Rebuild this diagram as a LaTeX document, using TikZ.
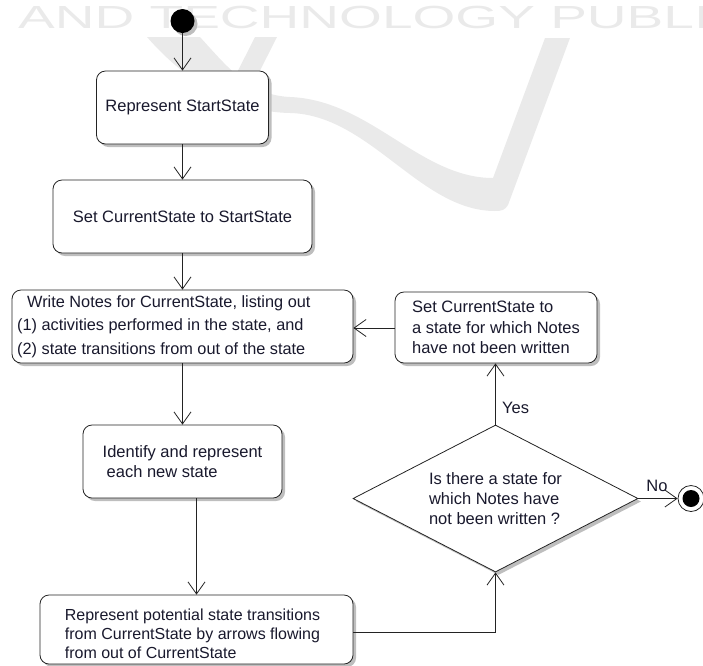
\documentclass[tikz,border=0pt]{standalone}
\usepackage{fontspec}
\setmainfont{Liberation Sans}
\usetikzlibrary{arrows.meta,shapes.geometric,shadows,calc}

\definecolor{ink}{RGB}{25,25,45}
\definecolor{edge}{RGB}{35,35,35}
\definecolor{shade}{RGB}{190,190,190}
\definecolor{wmgray}{RGB}{234,234,234}

\tikzset{
  flow/.style={draw=edge, line width=0.8pt,
    -{Straight Barb[length=12pt,width=17pt,line width=0.8pt]}},
  boxshadow/.style={drop shadow={shadow xshift=3pt, shadow yshift=-3pt, fill=shade, opacity=1}},
  activity/.style={draw=edge, line width=0.8pt, fill=white, rounded corners=9pt,
    align=left, text=ink, inner sep=0pt, boxshadow,
    font=\fontsize{16.5}{20.5}\selectfont},
  boxtext/.style={text=ink, align=left, inner sep=0pt},
  decision/.style={diamond, draw=edge, line width=0.8pt, fill=white, aspect=1.94,
    minimum width=285pt, minimum height=147pt, inner sep=0pt, align=left, text=ink,
    boxshadow, font=\fontsize{16.5}{20}\selectfont},
  startdot/.style={circle, fill=black, minimum size=24pt, inner sep=0pt, boxshadow},
  enddot/.style={circle, draw=edge, line width=0.8pt, fill=white, minimum size=26pt,
    inner sep=0pt, path picture={\fill[black] (path picture bounding box.center) circle (8.5pt);}},
  lbl/.style={text=ink, inner sep=0pt, font=\fontsize{16.5}{20}\selectfont},
}

\begin{document}
\begin{tikzpicture}[x=1pt, y=-1pt]
  \useasboundingbox (0,0) rectangle (703,665);

  % faint publisher watermark behind the chart
  \begin{scope}
    \clip (0,0) rectangle (703,665);
    \node[anchor=base west, inner sep=0pt, text=wmgray,
      font=\fontsize{32}{32}\selectfont] (wm) at (18,28)
      {\scalebox{1.72}[1]{AND TECHNOLOGY PUBLIC}};
    \fill[wmgray] (147,37) -- (200,37)
      .. controls (230,70) and (250,95) .. (290,97)
      .. controls (370,100) and (420,178) .. (493,178)
      -- (545,38) -- (570,38) -- (508,205)
      .. controls (505,210) and (502,211) .. (495,211)
      .. controls (420,211) and (370,115) .. (290,113)
      .. controls (230,112) and (180,75) .. cycle;
    \fill[wmgray] (255,37) -- (277,37) -- (240,110) -- (218,110) -- cycle;
  \end{scope}

  % activities
  \node[startdot] (s) at (182.5,21) {};
  \node[activity, minimum width=172pt, minimum height=73pt] (b1) at (182.5,107.5)
    {Represent StartState};
  \node[activity, minimum width=259pt, minimum height=73pt] (b2) at (182.5,216.5)
    {Set CurrentState to StartState};
  \node[activity, minimum width=341pt, minimum height=73pt] (b3) at (182.5,326.5) {};
  \node[boxtext, anchor=west, font=\fontsize{16.3}{23.5}\selectfont]
    (b3text) at (17,326.5)
    {\hspace{10pt}Write Notes for CurrentState, listing out\\(1) activities performed in the state, and\\(2) state transitions from out of the state};
  \node[activity, minimum width=202pt, minimum height=71pt] (b4) at (496,327.5)
    {Set CurrentState to\\a state for which Notes\\have not been written};
  \node[activity, minimum width=199pt, minimum height=73pt] (b5) at (182.5,461.5)
    {Identify and represent\\\hspace{4pt}each new state};
  \node[activity, minimum width=313pt, minimum height=69pt] (b6) at (196.5,629.5) {};
  \node[boxtext, font=\fontsize{16}{19}\selectfont]
    (b6text) at (192.5,633.5)
    {Represent potential state transitions\\from CurrentState by arrows flowing\\from out of CurrentState};
  \node[decision] (d) at (495.5,498.5)
    {Is there a state for\\which Notes have\\not been written ?};
  \node[enddot] (e) at (691,498.5) {};

  % transitions
  \draw[flow] (s) -- (b1);
  \draw[flow] (b1) -- (b2);
  \draw[flow] (b2) -- (b3);
  \draw[flow] (b3) -- (b5);
  \draw[flow] (b5.south -| b6.north) -- (b6.north);
  \draw[flow] (b6.east |- 0,632) -| (d.south);
  \draw[flow] (d.north) -- (d.north |- b4.south);
  \draw[flow] (b4.west |- 0,328) -- (b3.east |- 0,328);
  \draw[flow] (d.east) -- (e);

  \node[lbl, anchor=west] (yes) at (502,408) {Yes};
  \node[lbl] (no) at (657,486) {No};
\end{tikzpicture}
\end{document}
